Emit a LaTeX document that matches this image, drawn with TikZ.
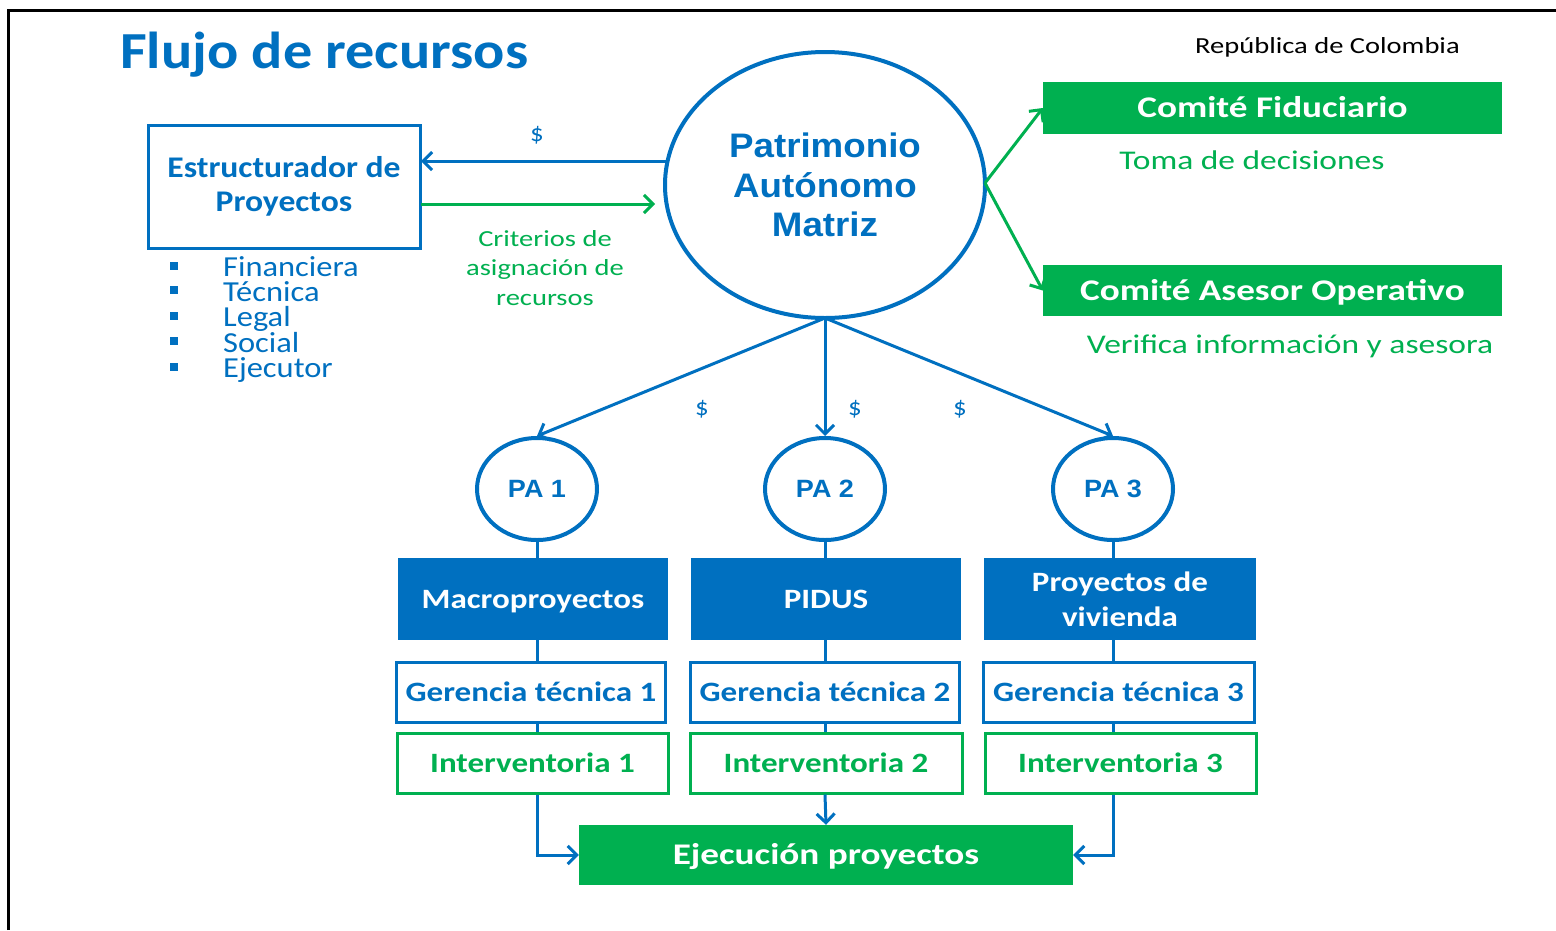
\documentclass[tikz,border=0pt]{standalone}
\usepackage{fontspec}
\setmainfont{Carlito}
\newfontfamily\wa{Carlito}[FakeStretch=1.12]
\newfontfamily\wb{Carlito}[FakeStretch=1.18]
\newfontfamily\wc{Carlito}[FakeStretch=1.24]
\newfontfamily\arialb{Liberation Sans}[FakeStretch=1.08]
\usetikzlibrary{arrows.meta,shapes.geometric}
\definecolor{cblue}{HTML}{0070C0}
\definecolor{cgreen}{HTML}{00B050}
\newcommand{\fs}[2]{\fontsize{#1}{#2}\selectfont}
\tikzset{
  bluearrow/.style={draw=cblue,line width=3pt,-{Straight Barb[length=9pt,width=18pt,line width=3pt]}},
  greenarrow/.style={draw=cgreen,line width=3pt,-{Straight Barb[length=9pt,width=18pt,line width=3pt]}},
  blueline/.style={draw=cblue,line width=3pt},
  capc/.style={text height=#1,text depth=0pt},
  pacircle/.style={ellipse,draw=cblue,line width=4pt,minimum width=120pt,minimum height=102pt,inner sep=0pt,text=cblue,capc=17.9pt,font=\arialb\bfseries\fs{25}{30}},
  bluebox/.style={fill=cblue,text=white,minimum width=270pt,minimum height=82pt,inner sep=0pt,align=center,font=\wb\bfseries\fs{28}{35}},
  gerbox/.style={draw=cblue,fill=white,line width=3pt,text=cblue,minimum width=269pt,minimum height=60pt,inner sep=0pt,capc=18pt,font=\wb\bfseries\fs{28}{34}},
  intbox/.style={draw=cgreen,fill=white,line width=3pt,text=cgreen,minimum width=268pt,minimum height=60pt,inner sep=0pt,capc=18pt,font=\wb\bfseries\fs{28}{34}},
  greenbox/.style={fill=cgreen,text=white,inner sep=0pt,capc=19.3pt,font=\wc\bfseries\fs{30}{36}},
  dollar/.style={text=cblue,font=\wa\fs{24}{28}},
}
\begin{document}
\begin{tikzpicture}[x=1pt,y=-1pt]
\useasboundingbox (0,0) rectangle (1556,930);
\fill[white] (0,0) rectangle (1556,930);
% frame
\draw[black,line width=3pt] (8,930) -- (8,10) -- (1556,10);
% title
\node[anchor=base west,text=cblue,font=\wa\bfseries\fs{52}{60},inner sep=0pt] (title) at (120,68) {Flujo de recursos};
\node[anchor=base west,font=\wc\fs{23}{28},inner sep=0pt] (rep) at (1195,53) {República de Colombia};
% estructurador
\node[draw=cblue,line width=3pt,minimum width=272pt,minimum height=123pt,inner sep=0pt,align=center,text=cblue,font=\wa\bfseries\fs{30}{34}] (est) at (284,186.5) {Estructurador de\\Proyectos};
% bullets
\foreach \y [count=\i] in {266,290,316,341,367}{
  \node[fill=cblue,minimum size=8pt,inner sep=0pt] (b\i) at (174,\y) {};
}
\node[anchor=north west,inner sep=0pt,align=left,text=cblue,font=\wa\fs{29}{25.3}] (list) at (223,256) {Financiera\\Técnica\\Legal\\Social\\Ejecutor};
% patrimonio
\node[ellipse,draw=cblue,line width=4pt,minimum width=320pt,minimum height=266pt,inner sep=0pt,align=center,text=cblue,font=\arialb\bfseries\fs{34}{39.5}] (pam) at (825,185) {Patrimonio\\Autónomo\\Matriz};
% arrows estructurador
\coordinate (pl) at (667,161);
\coordinate (el) at (421,161);
\draw[bluearrow] (pl) -- (el);
\node[dollar] (d0) at (537,135) {\$};
\coordinate (gs) at (421,204);
\coordinate (ge) at (655,204);
\draw[greenarrow] (gs) -- (ge);
\node[align=center,text=cgreen,font=\wc\fs{23}{29.5},inner sep=0pt] (crit) at (545,268) {Criterios de\\asignación de\\recursos};
% comites
\node[greenbox,minimum width=459pt,minimum height=52pt] (cf) at (1272.5,108) {Comité Fiduciario};
\node[text=cgreen,font=\wc\fs{27}{32},inner sep=0pt,capc=17.4pt] (toma) at (1252,161) {Toma de decisiones};
\node[greenbox,minimum width=459pt,minimum height=51pt] (cao) at (1272.5,290.5) {Comité Asesor Operativo};
\node[text=cgreen,font=\wc\fs{27}{32},inner sep=0pt,capc=17.4pt] (ver) at (1290,345) {Verifica información y asesora};
\coordinate (pr) at (985,183);
\draw[greenarrow] (pr) -- (cf.west);
\draw[greenarrow] (pr) -- (cao.west);
% PA
\node[pacircle] (pa1) at (537,489) {PA 1};
\node[pacircle] (pa2) at (825,489) {PA 2};
\node[pacircle] (pa3) at (1113,489) {PA 3};
\coordinate (pb) at (825,318);
\draw[bluearrow] (pb) -- (pa1.north);
\draw[bluearrow] (pb) -- (pa2.north);
\draw[bluearrow] (pb) -- (pa3.north);
\node[dollar] (d1) at (702,409) {\$};
\node[dollar] (d2) at (855,409) {\$};
\node[dollar] (d3) at (960,409) {\$};
% boxes
\node[bluebox,capc=18pt] (m1) at (533,599) {Macroproyectos};
\node[bluebox,capc=18pt] (m2) at (826,599) {PIDUS};
\node[bluebox,minimum width=272pt] (m3) at (1120,599) {Proyectos de\\vivienda};
\node[gerbox] (g1) at (531,692) {Gerencia técnica 1};
\node[gerbox] (g2) at (825,692) {Gerencia técnica 2};
\node[gerbox,minimum width=271pt] (g3) at (1118.5,692) {Gerencia técnica 3};
\node[intbox,minimum width=271pt] (i1) at (532.5,763) {Interventoria 1};
\node[intbox,minimum width=272pt] (i2) at (826,763) {Interventoria 2};
\node[intbox,minimum width=271pt] (i3) at (1120.5,763) {Interventoria 3};
% vertical connectors
\foreach \k in {1,2,3}{
  \draw[blueline] (pa\k.south) -- (pa\k.south |- m\k.north);
  \draw[blueline] (pa\k.south |- m\k.south) -- (pa\k.south |- g\k.north);
  \draw[blueline] (pa\k.south |- g\k.south) -- (pa\k.south |- i\k.north);
}
% ejecucion
\node[greenbox,minimum width=494pt,minimum height=60pt] (ej) at (826,855) {Ejecución proyectos};
\draw[bluearrow] (pa1.south |- i1.south) -- (pa1.south |- ej.west) -- (ej.west);
\draw[bluearrow] (pa2.south |- i2.south) -- (ej.north);
\draw[bluearrow] (pa3.south |- i3.south) -- (pa3.south |- ej.east) -- (ej.east);
\end{tikzpicture}
\end{document}
